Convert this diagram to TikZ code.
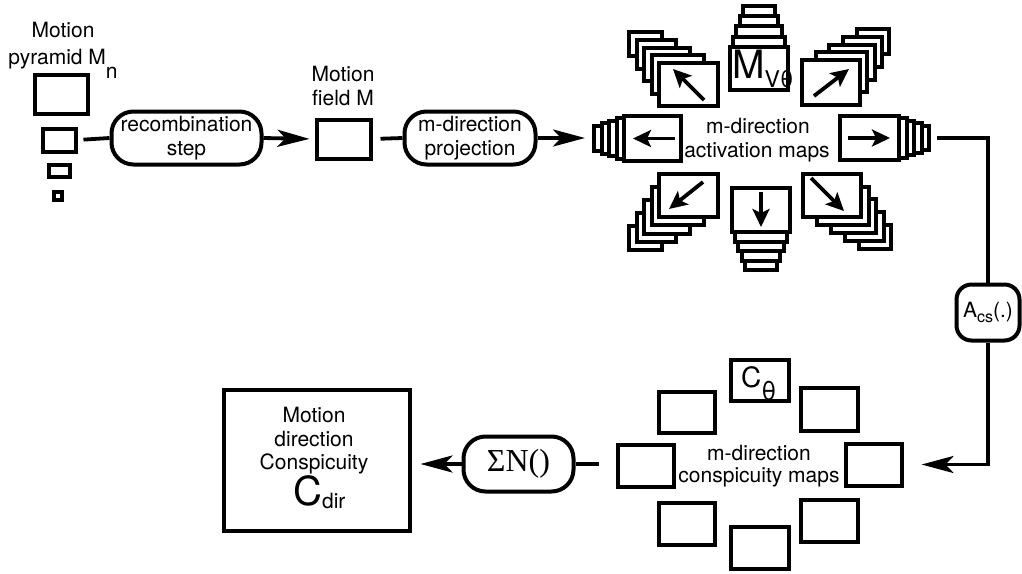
\documentclass[tikz,border=0pt]{standalone}
\usepackage{fontspec}
\setmainfont{TeX Gyre Heros}
\newfontfamily\seriffont{Liberation Serif}
\usetikzlibrary{arrows.meta}
\tikzset{
  bx/.style={draw, line width=4pt, fill=white, inner sep=0pt},
  rbox/.style={draw, line width=4pt, fill=white, rounded corners=22pt, inner sep=0pt, align=center, font=\fontsize{21}{24}\selectfont},
  conn/.style={line width=3.8pt},
  arr/.style={line width=3.8pt, -{Stealth[length=32pt,width=17pt,inset=8pt]}},
  inarr/.style={line width=3.8pt, -{Stealth[length=18pt,width=17pt,inset=4pt]}},
  lbl/.style={inner sep=0pt, anchor=base, font=\fontsize{21}{24}\selectfont},
}
\newcommand\mapstack[9]{% #1 name, #2 cx, #3 cy, #4 w, #5 h, #6 ax, #7 ay, #8 dx, #9 dy
  \foreach \k in {4,3,2,1}{%
    \pgfmathsetmacro\ff{1-0.11*\k}%
    \pgfmathsetmacro\lx{#2+#6*#4*(1-\ff)/2+\k*#8}%
    \pgfmathsetmacro\ly{#3+#7*#5*(1-\ff)/2+\k*#9}%
    \pgfmathsetmacro\lw{#4*\ff}%
    \pgfmathsetmacro\lh{#5*\ff}%
    \node[bx, minimum width=\lw pt, minimum height=\lh pt] (#1-\k) at (\lx,\ly) {};
  }%
  \node[bx, minimum width=#4pt, minimum height=#5pt] (#1) at (#2,#3) {};
}
\begin{document}
\begin{tikzpicture}[x=1pt,y=-1pt]
\useasboundingbox (0,0) rectangle (1022,573);
% motion pyramid
\node[lbl] (tpyr1) at (63,37) {Motion};
\node[lbl] (tpyr2) at (63,64) {pyramid M\raisebox{-14pt}{n}};
\node[bx, minimum width=53pt, minimum height=39pt] (p1) at (61,94) {};
\node[bx, minimum width=33pt, minimum height=23pt] (p2) at (59,140) {};
\node[bx, minimum width=21pt, minimum height=12pt] (p3) at (59,171) {};
\node[bx, minimum width=8pt, minimum height=8pt] (p4) at (57.5,195.5) {};
% recombination
\node[rbox, minimum width=150pt, minimum height=53pt] (rec) at (186.5,138) {recombination\\step};
% motion field
\node[lbl] (tfield1) at (343,81) {Motion};
\node[lbl] (tfield2) at (343,105) {field M};
\node[bx, minimum width=54pt, minimum height=39pt] (field) at (343.5,139) {};
% projection
\node[rbox, minimum width=131pt, minimum height=53pt] (proj) at (470,138) {m-direction\\projection};
% activation map stacks
\mapstack{aN}{759}{68.5}{58}{43}{0}{-1}{0}{-10.3}
\mapstack{aNW}{688.5}{84.5}{59}{43}{-1}{-1}{-7.5}{-7.7}
\mapstack{aNE}{831}{82.5}{58}{45}{1}{-1}{7.3}{-7.7}
\mapstack{aW}{652.5}{138.5}{57}{45}{-1}{0}{-7.5}{0}
\mapstack{aE}{869.5}{138}{59}{44}{1}{0}{7.5}{0}
\mapstack{aSW}{688.5}{195.5}{59}{43}{-1}{1}{-7.5}{8.3}
\mapstack{aSE}{832}{195.5}{58}{43}{1}{1}{7.5}{8}
\mapstack{aS}{761}{210}{58}{44}{0}{1}{0}{9.5}
\node[inner sep=0pt, anchor=base west] (mvt) at (732,78) {\fontsize{39}{39}\selectfont M\fontsize{23}{23}\selectfont\raisebox{-9pt}{Vθ}};
\draw[inarr] (aW.east) ++(-8,0) coordinate (aWt) (aWt) -- ++(-42,0) coordinate (aWh);
\draw[inarr] (aE.west) ++(10,0) coordinate (aEt) (aEt) -- ++(42,0) coordinate (aEh);
\draw[inarr] (aS.north) ++(0,6) coordinate (aSt) (aSt) -- ++(0,35) coordinate (aSh);
\draw[inarr] (aNW.south east) ++(-16,-8) coordinate (aNWt) (aNWt) -- ++(-31,-31) coordinate (aNWh);
\draw[inarr] (aNE.south west) ++(14,-11) coordinate (aNEt) (aNEt) -- ++(35,-27) coordinate (aNEh);
\draw[inarr] (aSW.north east) ++(-17,10) coordinate (aSWt) (aSWt) -- ++(-34,27) coordinate (aSWh);
\draw[inarr] (aSE.north west) ++(10,6) coordinate (aSEt) (aSEt) -- ++(33,33) coordinate (aSEh);
\node[lbl] (tact1) at (758,133) {m-direction};
\node[lbl] (tact2) at (757,157) {activation maps};
% Acs
\node[rbox, rounded corners=15pt, minimum width=63pt, minimum height=56pt] (acs) at (988,312.5) {A\fontsize{16}{16}\selectfont\raisebox{-5pt}{cs}\fontsize{21}{24}\selectfont(.)};
% conspicuity maps
\node[bx, minimum width=56pt, minimum height=41pt] (cNW) at (686.5,412) {};
\node[bx, minimum width=58pt, minimum height=41pt] (cN) at (760,380.5) {};
\node[bx, minimum width=57pt, minimum height=43pt] (cNE) at (829,409) {};
\node[bx, minimum width=56pt, minimum height=42pt] (cW) at (645.5,465.5) {};
\node[bx, minimum width=56pt, minimum height=42pt] (cE) at (873.5,464.5) {};
\node[bx, minimum width=56pt, minimum height=42pt] (cSW) at (686.5,523.5) {};
\node[bx, minimum width=57pt, minimum height=42pt] (cSE) at (829,520.5) {};
\node[bx, minimum width=58pt, minimum height=42pt] (cS) at (759.5,547.5) {};
\node[inner sep=0pt, anchor=base west] (ctheta) at (741,387) {\fontsize{28}{28}\selectfont C\fontsize{26}{26}\selectfont\raisebox{-13pt}{θ}};
\node[lbl] (tcon1) at (759,460) {m-direction};
\node[lbl] (tcon2) at (759,482) {conspicuity maps};
% sum
\node[rbox, minimum width=110pt, minimum height=55pt, font=\seriffont\fontsize{32}{32}\selectfont] (sig) at (518.5,464) {ΣN()};
% result
\node[bx, minimum width=186pt, minimum height=141pt] (cdir) at (316.5,460) {};
\node[lbl] (tdir1) at (314,422) {Motion};
\node[lbl] (tdir2) at (314,446) {direction};
\node[lbl] (tdir3) at (314,469) {Conspicuity};
\node[inner sep=0pt, anchor=base west] (tdir4) at (293,505) {\fontsize{40}{40}\selectfont C\fontsize{21}{21}\selectfont\raisebox{-3pt}{dir}};
% connectors
\draw[conn, shorten <=6pt] (p2.east) -- (rec.west);
\draw[arr, shorten >=5pt] (rec.east) -- (field.west);
\draw[conn, shorten <=8pt] (field.east) -- (proj.west);
\draw[arr, shorten >=7pt] (proj.east) -- (proj.east -| aW-4.west);
\draw[conn, shorten <=6pt] (aE-4.east) -| (acs.north);
\draw[arr, shorten >=18pt] (acs.south) |- (cE.east);
\draw[conn, shorten <=17pt] (cW.west |- sig.east) -- (sig.east);
\draw[arr, shorten >=9pt] (sig.west) -- (sig.west -| cdir.east);
\end{tikzpicture}
\end{document}
